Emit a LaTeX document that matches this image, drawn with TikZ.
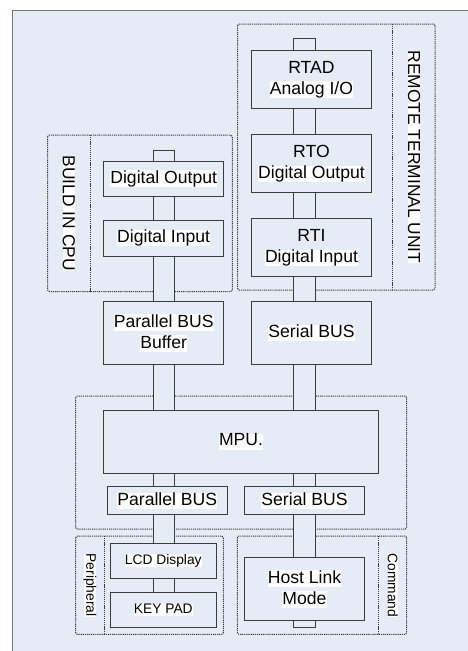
\documentclass[tikz,border=0pt]{standalone}
\usepackage{fontspec}
\setmainfont{Liberation Sans}
\definecolor{bgblue}{RGB}{230,236,246}
\definecolor{edge}{RGB}{60,60,60}
\newcommand{\hl}[1]{{\setlength{\fboxsep}{0pt}\colorbox{white}{\vphantom{Ag}#1}}}
\begin{document}
\begin{tikzpicture}[x=1pt,y=-1pt,
    box/.style={draw=edge,fill=bgblue,line width=1pt,inner sep=0pt,align=center,
      font=\fontsize{17.6}{21}\selectfont},
    smallbox/.style={box,font=\fontsize{13.8}{16}\selectfont},
    group/.style={draw=edge,line width=1pt,dash pattern=on 1.2pt off 0.9pt,rounded corners=1.5pt},
    bus/.style={draw=edge,fill=bgblue,line width=1pt},
    vlabel/.style={rotate=-90,inner sep=0pt,fill=white,font=\fontsize{17.4}{20}\selectfont},
    svlabel/.style={vlabel,font=\fontsize{13.8}{16}\selectfont}]
    \useasboundingbox (0,0) rectangle (468,651);
    %фон и рамка
    \fill[white] (0,0) rectangle (468,651);
    \draw[fill=bgblue,draw=edge!70,line width=1pt] (12.5,10) rectangle (480,670);
    %пунктирные группы
    \draw[group] (237.7,24) rectangle (435,290);
    \draw[group] (392.7,24) -- (392.7,290);
    \draw[group] (47.7,135) rectangle (232.3,291.7);
    \draw[group] (90,135) -- (90,291.7);
    \draw[group] (75.7,396) rectangle (406.7,529);
    \draw[group] (75.7,536) rectangle (223.3,634.3);
    \draw[group] (104.3,536) -- (104.3,634.3);
    \draw[group] (237.3,536) rectangle (406.7,634.3);
    \draw[group] (378.7,536) -- (378.7,634.3);
    \node[vlabel] (rtulbl) at (414,157) {REMOTE TERMINAL UNIT};
    \node[vlabel] (cpulbl) at (68.8,213.3) {BUILD IN CPU};
    \node[svlabel] (perilbl) at (90,585.2) {Peripheral};
    \node[svlabel] (cmdlbl) at (392.7,585.2) {Command};
    %шины
    \coordinate (lbtop) at (153,150.3);
    \coordinate (lbbot) at (174,627.3);
    \coordinate (rbtop) at (293.7,38.3);
    \coordinate (rbbot) at (315,627.3);
    \draw[bus] (lbtop) rectangle (lbbot);
    \draw[bus] (rbtop) rectangle (rbbot);
    %блоки справа
    \node[box,minimum width=119.6pt,minimum height=58pt] (rtad) at (311.5,79.3) {RTAD\\\hl{Analog I/O}};
    \node[box,minimum width=119.6pt,minimum height=57.6pt] (rto) at (311.5,163.5) {RTO\\\hl{Digital Output}};
    \node[box,minimum width=119.6pt,minimum height=58pt] (rti) at (311.5,247.7) {RTI\\\hl{Digital Input}};
    \node[box,minimum width=119.6pt,minimum height=63.4pt] (serbuf) at (311.5,333) {\hl{Serial BUS}};
    %блоки слева
    \node[box,minimum width=120pt,minimum height=35pt] (dout) at (163.7,178.5) {\hl{Digital Output}};
    \node[box,minimum width=120pt,minimum height=35.7pt] (din) at (163.7,238.2) {\hl{Digital Input}};
    \node[box,minimum width=120pt,minimum height=63.4pt] (parbuf) at (163.7,333) {\hl{Parallel BUS}\\\hl{Buffer}};
    %процессор
    \node[box,minimum width=274.6pt,minimum height=63.3pt] (mpu) at (241,441.7) {\hl{MPU.}};
    \node[box,minimum width=120pt,minimum height=28.3pt] (parbus) at (167.3,500.8) {\hl{Parallel BUS}};
    \node[box,minimum width=119.6pt,minimum height=28.3pt] (serbus) at (304.5,500.8) {\hl{Serial BUS}};
    %периферия и хост
    \node[smallbox,minimum width=106pt,minimum height=35pt] (lcd) at (163.3,560.8) {\hl{LCD Display}};
    \node[smallbox,minimum width=106pt,minimum height=34.6pt] (keypad) at (163.3,610) {\hl{KEY PAD}};
    \node[box,minimum width=119.6pt,minimum height=63.4pt] (host) at (304.5,589) {\hl{Host Link}\\\hl{Mode}};
\end{tikzpicture}
\end{document}
